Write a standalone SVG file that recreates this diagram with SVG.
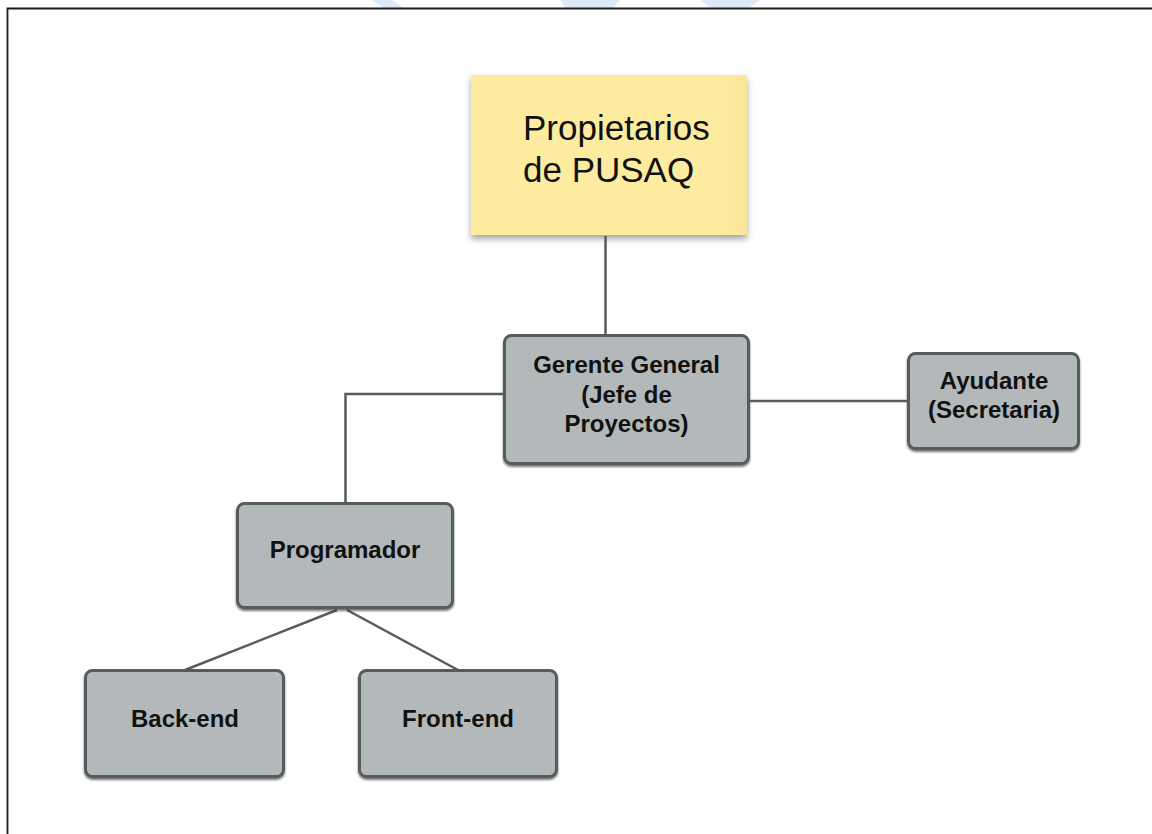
<svg xmlns="http://www.w3.org/2000/svg" width="1152" height="834" viewBox="0 0 1152 834">
  <defs>
    <filter id="shGray" x="-10%" y="-10%" width="120%" height="130%">
      <feDropShadow dx="0" dy="2" stdDeviation="1.2" flood-color="#3a3d3d" flood-opacity="0.7"/>
    </filter>
    <filter id="shYellow" x="-10%" y="-10%" width="120%" height="130%">
      <feDropShadow dx="0" dy="4" stdDeviation="3" flood-color="#555" flood-opacity="0.55"/>
    </filter>
    <linearGradient id="yel" x1="0" y1="0" x2="1" y2="0">
      <stop offset="0" stop-color="#fdec9f"/>
      <stop offset="0.9" stop-color="#fdeca0"/>
      <stop offset="1" stop-color="#f8e59a"/>
    </linearGradient>
  </defs>
  <style>
    .box { fill: #b3b9bb; stroke: #575b5b; stroke-width: 3; filter: url(#shGray); }
    .lbl { font-family: "Liberation Sans", Arial, sans-serif; font-weight: bold; font-size: 24px; fill: #111; text-anchor: middle; }
    .big { font-family: "Liberation Sans", Arial, sans-serif; font-size: 35px; fill: #111; }
    .conn { stroke: #575b5b; stroke-width: 2.5; fill: none; }
  </style>
  <rect x="0" y="0" width="1152" height="834" fill="#ffffff"/>
  <!-- faint watermark -->
  <g id="watermark" fill="#d5e4f4" opacity="0.8">
    <polygon points="372,0 392,0 405,9 385,9"/>
    <polygon points="560,0 620,0 612,9 566,9"/>
    <polygon points="700,0 760,0 748,9 712,9"/>
  </g>
  <!-- frame -->
  <path d="M7.5,834 L7.5,8.5 L1152,8.5" fill="none" stroke="#1a1a1a" stroke-width="1.8"/>

  <g id="connectors">
    <line class="conn" x1="605.5" y1="236" x2="605.5" y2="335"/>
    <line class="conn" x1="749" y1="401" x2="908" y2="401"/>
    <polyline class="conn" points="504,394 345.5,394 345.5,503"/>
    <line class="conn" x1="337" y1="610" x2="185" y2="670"/>
    <line class="conn" x1="347" y1="610" x2="458" y2="670"/>
  </g>

  <g id="propietarios">
    <rect x="471" y="75" width="276" height="160" fill="url(#yel)" filter="url(#shYellow)"/>
    <text class="big" x="523" y="140">Propietarios</text>
    <text class="big" x="523" y="182">de PUSAQ</text>
  </g>

  <g id="gerente">
    <rect class="box" x="504.5" y="335.5" width="244" height="128" rx="7"/>
    <text class="lbl" x="626.5" y="373">Gerente General</text>
    <text class="lbl" x="626.5" y="403">(Jefe de</text>
    <text class="lbl" x="626.5" y="432">Proyectos)</text>
  </g>

  <g id="ayudante">
    <rect class="box" x="908.5" y="353.5" width="170" height="95" rx="7"/>
    <text class="lbl" x="994" y="389">Ayudante</text>
    <text class="lbl" x="994" y="418">(Secretaria)</text>
  </g>

  <g id="programador">
    <rect class="box" x="237.5" y="503.5" width="215" height="104" rx="7"/>
    <text class="lbl" x="345" y="558">Programador</text>
  </g>

  <g id="backend">
    <rect class="box" x="85.5" y="670.5" width="198" height="106" rx="7"/>
    <text class="lbl" x="185" y="727">Back-end</text>
  </g>

  <g id="frontend">
    <rect class="box" x="359.5" y="670.5" width="197" height="106" rx="7"/>
    <text class="lbl" x="458" y="727">Front-end</text>
  </g>
</svg>
